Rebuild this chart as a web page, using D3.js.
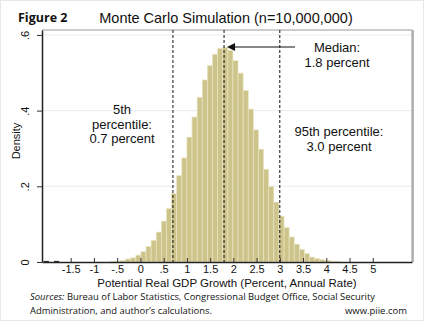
<!DOCTYPE html>
<html lang="en">
<head>
<meta charset="UTF-8">
<title>Monte Carlo Simulation</title>
<script src="https://cdn.jsdelivr.net/npm/d3@7"></script>
<style>
  body { margin: 0; background: #fff; }
  text { font-family: "Liberation Sans", Arial, sans-serif; fill: #111; }
  .note { font-family: "Open Sans", "Noto Sans", sans-serif; }
</style>
</head>
<body>
<script>
  // histogram of simulated potential growth, bin width 0.11
  const binStart = -0.649;
  const binWidth = 0.11;
  const density = [
    0.001, 0.002, 0.004, 0.008, 0.011, 0.018, 0.027, 0.041, 0.057, 0.079,
    0.108, 0.141, 0.181, 0.228, 0.275, 0.330, 0.383, 0.435, 0.481, 0.519,
    0.549, 0.564, 0.567, 0.559, 0.532, 0.499, 0.453, 0.404, 0.349, 0.298,
    0.245, 0.199, 0.158, 0.121, 0.091, 0.066, 0.047, 0.033, 0.022, 0.013,
    0.009, 0.006, 0.004, 0.002, 0.001
  ];
  // a few extreme draws far in the left tail
  const tailBins = [-2.08, -1.86];
  const tailDensity = [0.003, 0.003];

  const xTicks = [-1.5, -1, -0.5, 0, 0.5, 1, 1.5, 2, 2.5, 3, 3.5, 4, 4.5, 5];
  const yTicks = [0, 0.2, 0.4, 0.6];
  const percentiles = [0.7, 1.8, 3.0];

  const W = 424, H = 321;
  const m = { left: 42, right: 412, top: 30, bottom: 262 };

  const svg = d3.select("body").append("svg")
    .attr("width", W)
    .attr("height", H);

  svg.append("rect")
    .attr("x", 0.5).attr("y", 0.5)
    .attr("width", W - 1).attr("height", H - 1)
    .attr("fill", "#fff")
    .attr("stroke", "#e3e9ec");

  const x = d3.scaleLinear().domain([-2.118, 5.845]).range([m.left, m.right]);
  const y = d3.scaleLinear().domain([0, 0.613]).range([m.bottom, m.top]);

  const fmt = v => v === 0 ? "0" : String(v).replace(/^(-?)0\./, "$1.");

  // grid
  svg.append("g").selectAll("line")
    .data(yTicks.filter(d => d > 0))
    .join("line")
    .attr("x1", m.left).attr("x2", m.right)
    .attr("y1", d => y(d)).attr("y2", d => y(d))
    .attr("stroke", "#e6eef1");

  // frame, top and right
  svg.append("path")
    .attr("d", `M${m.left},${m.top}H${m.right}V${m.bottom}`)
    .attr("fill", "none")
    .attr("stroke", "#9a9a9a")
    .attr("stroke-width", 1);
  svg.append("line")
    .attr("x1", m.right + 1).attr("x2", m.right + 1)
    .attr("y1", m.top).attr("y2", m.bottom)
    .attr("stroke", "#a0a0a0").attr("stroke-width", 1.5);

  // bars
  svg.append("g").selectAll("rect")
    .data(density)
    .join("rect")
    .attr("x", (d, i) => x(binStart + i * binWidth))
    .attr("y", d => y(d))
    .attr("width", x(binWidth) - x(0))
    .attr("height", d => y(0) - y(d))
    .attr("fill", "#cdc48c")
    .attr("stroke", "#e9e4c0")
    .attr("stroke-width", 0.7);

  svg.append("g").selectAll("rect")
    .data(tailBins)
    .join("rect")
    .attr("x", d => x(d))
    .attr("y", (d, i) => y(tailDensity[i]))
    .attr("width", x(binWidth) - x(0))
    .attr("height", (d, i) => y(0) - y(tailDensity[i]))
    .attr("fill", "#333");

  // axes
  const xAxis = d3.axisBottom(x)
    .tickValues(xTicks)
    .tickFormat(fmt)
    .tickSizeInner(-4)
    .tickSizeOuter(0);
  const gx = svg.append("g")
    .attr("transform", `translate(0,${m.bottom})`)
    .call(xAxis);
  gx.select(".domain").attr("stroke", "#222").attr("stroke-width", 1.5);
  gx.selectAll(".tick line").attr("stroke", "#333");
  gx.selectAll(".tick text")
    .attr("font-size", 11)
    .attr("font-family", "Liberation Sans, Arial, sans-serif")
    .attr("y", 11)
    .attr("dy", 0)
    .attr("fill", "#111");

  const yAxis = d3.axisLeft(y)
    .tickValues(yTicks)
    .tickFormat(fmt)
    .tickSize(5)
    .tickSizeOuter(0)
    .tickPadding(4);
  const gy = svg.append("g")
    .attr("transform", `translate(${m.left},0)`)
    .call(yAxis);
  gy.select(".domain").attr("stroke", "#222").attr("stroke-width", 1.5);
  gy.selectAll(".tick line").attr("stroke", "#333");
  gy.selectAll(".tick text")
    .attr("font-size", 11)
    .attr("font-family", "Liberation Sans, Arial, sans-serif")
    .attr("fill", "#111")
    .attr("text-anchor", "middle")
    .attr("transform", "rotate(-90)")
    .attr("x", 0)
    .attr("y", -13)
    .attr("dy", 0);

  // percentile markers
  svg.append("g").selectAll("line")
    .data(percentiles)
    .join("line")
    .attr("x1", d => x(d)).attr("x2", d => x(d))
    .attr("y1", m.top).attr("y2", m.bottom)
    .attr("stroke", "#111")
    .attr("stroke-width", 1)
    .attr("stroke-dasharray", "3,2");

  // arrow to the median
  const ay = 47;
  const tip = x(percentiles[1]) + 3;
  svg.append("line")
    .attr("x1", tip + 6).attr("x2", 295)
    .attr("y1", ay).attr("y2", ay)
    .attr("stroke", "#111").attr("stroke-width", 1.2);
  svg.append("path")
    .attr("d", `M${tip},${ay}l8,-4v8z`)
    .attr("fill", "#111");

  // labels
  const label = (lines, cx, y0) => {
    const t = svg.append("text")
      .attr("text-anchor", "middle")
      .attr("font-size", 13);
    lines.forEach((s, i) => t.append("tspan").attr("x", cx).attr("y", y0 + i * 14.5).text(s));
  };
  label(["5th", "percentile:", "0.7 percent"], 122, 114);
  label(["Median:", "1.8 percent"], 337, 52);
  label(["95th percentile:", "3.0 percent"], 339, 136);

  svg.append("text")
    .attr("x", 226).attr("y", 23)
    .attr("text-anchor", "middle")
    .attr("font-size", 14.5)
    .text("Monte Carlo Simulation (n=10,000,000)");

  svg.append("text")
    .attr("class", "note")
    .attr("x", 18).attr("y", 22)
    .attr("font-size", 12.5)
    .attr("font-weight", "bold")
    .text("Figure 2");

  svg.append("text")
    .attr("transform", "translate(20,141) rotate(-90)")
    .attr("text-anchor", "middle")
    .attr("font-size", 11)
    .text("Density");

  svg.append("text")
    .attr("x", 227).attr("y", 286.5)
    .attr("text-anchor", "middle")
    .attr("font-size", 11.5)
    .text("Potential Real GDP Growth (Percent, Annual Rate)");

  const src = svg.append("text")
    .attr("class", "note")
    .attr("x", 30).attr("y", 299.5)
    .attr("font-size", 9.5)
    .attr("textLength", 345)
    .attr("lengthAdjust", "spacingAndGlyphs");
  src.append("tspan").attr("font-style", "italic").text("Sources:");
  src.append("tspan").text(" Bureau of Labor Statistics, Congressional Budget Office, Social Security");

  svg.append("text")
    .attr("class", "note")
    .attr("x", 30).attr("y", 314)
    .attr("font-size", 9.5)
    .attr("textLength", 182)
    .attr("lengthAdjust", "spacingAndGlyphs")
    .text("Administration, and author\u2019s calculations.");

  svg.append("text")
    .attr("class", "note")
    .attr("x", 407).attr("y", 314)
    .attr("text-anchor", "end")
    .attr("font-size", 9.5)
    .text("www.piie.com");
</script>
</body>
</html>
